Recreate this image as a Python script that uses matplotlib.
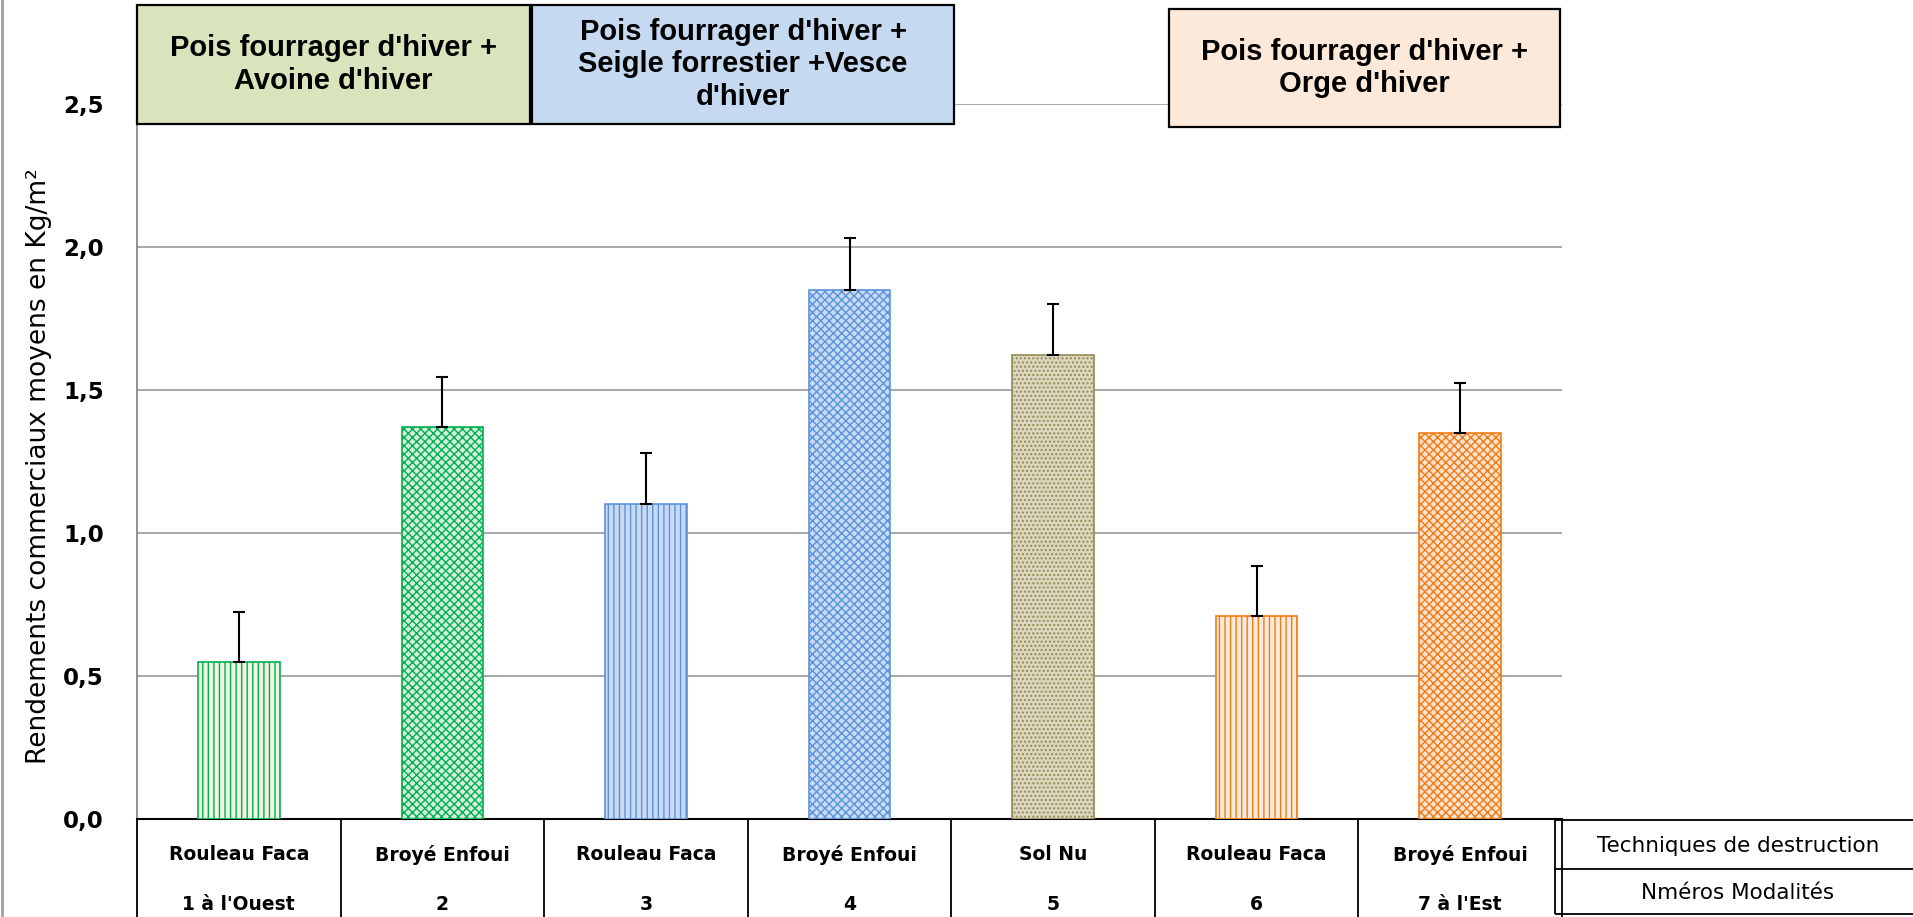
import matplotlib
matplotlib.use('Agg')
import matplotlib.pyplot as plt
import matplotlib.transforms as mtransforms
from matplotlib.patches import Rectangle
from matplotlib.lines import Line2D
import numpy as np

# Data
techniques = ['Rouleau Faca', 'Broyé Enfoui', 'Rouleau Faca', 'Broyé Enfoui',
              'Sol Nu', 'Rouleau Faca', 'Broyé Enfoui']
modalites = ["1 à l'Ouest", '2', '3', '4', '5', '6', "7 à l'Est"]
rendements = [0.55, 1.37, 1.10, 1.85, 1.62, 0.71, 1.35]
erreurs = [0.175, 0.175, 0.18, 0.18, 0.18, 0.175, 0.175]
yticks = [0.0, 0.5, 1.0, 1.5, 2.0, 2.5]
ytick_labels = ['0,0', '0,5', '1,0', '1,5', '2,0', '2,5']
groupes = ["Pois fourrager d'hiver +\nAvoine d'hiver",
           "Pois fourrager d'hiver +\nSeigle forrestier +Vesce\nd'hiver",
           "Pois fourrager d'hiver +\nOrge d'hiver"]

# Styles
faces = ['#EEF3E2', '#D5EEDC', '#C9DBF2', '#C9DBF2', '#DCD8C0', '#FDEBDD', '#FDE3CF']
edges = ['#00B050', '#00B050', '#5B93DB', '#5B93DB', '#948A54', '#F07A14', '#F07A14']
hatches = ['|||', 'xxxx', '|||', 'xxxx', '....', '|||', 'xxxx']
group_colors = ['#D8E4BC', '#C5D9F1', '#FDE9D9']

W, H = 1913, 917
plt.rcParams['hatch.linewidth'] = 1.0
box_font = ['Liberation Sans Narrow', 'Liberation Sans', 'DejaVu Sans']

fig = plt.figure(figsize=(W / 100, H / 100), dpi=100)
ax = fig.add_axes([137 / W, 1 - 819 / H, (1562 - 137) / W, (819 - 103.5) / H])

x = np.arange(len(rendements))
bars = ax.bar(x, rendements, width=0.4, color=faces, edgecolor=edges,
              linewidth=1.2, zorder=3)
for b, h in zip(bars, hatches):
    b.set_hatch(h)
ax.errorbar(x, rendements, yerr=[np.zeros(len(erreurs)), erreurs], fmt='none',
            ecolor='black', elinewidth=1.5, capsize=4, capthick=1.5, zorder=4)

ax.set_xlim(-0.5, len(rendements) - 0.5)
ax.set_ylim(0, 2.5)
ax.set_xticks([])
ax.set_yticks(yticks)
ax.set_yticklabels(ytick_labels, fontsize=16.5, fontweight='bold', family='DejaVu Sans')
ax.tick_params(axis='y', length=0, pad=24)
ax.set_axisbelow(True)
ax.yaxis.grid(True, color='#A0A0A0', lw=1.3)
ax.spines['top'].set_visible(False)
ax.spines['right'].set_visible(False)
ax.spines['left'].set_color('#808080')
ax.spines['left'].set_linewidth(1.2)
ax.spines['bottom'].set_linewidth(1.5)

fig.text(39 / W, 1 - 466 / H, 'Rendements commerciaux moyens en Kg/m²',
         rotation=90, ha='center', va='center', fontsize=19, family='DejaVu Sans')

# Table under the chart
trans = mtransforms.blended_transform_factory(ax.transData, fig.transFigure)
for i in range(len(rendements) + 1):
    ax.add_line(Line2D([i - 0.5, i - 0.5], [1 - 819 / H, 0], transform=trans,
                       color='black', lw=1.3, clip_on=False))
for i, (t, m) in enumerate(zip(techniques, modalites)):
    ax.text(i, 1 - 855 / H, t, transform=trans, ha='center', va='center',
            fontsize=13.5, fontweight='bold')
    ax.text(i, 1 - 905 / H, m, transform=trans, ha='center', va='center',
            fontsize=13.5, fontweight='bold')

# Right legend table
fig.patches.append(Rectangle((1555 / W, 1 - 914 / H), 400 / W, 94 / H,
                             transform=fig.transFigure, fill=False, ec='black', lw=1.3))
fig.lines.append(Line2D([1555 / W, 1], [1 - 869 / H, 1 - 869 / H],
                        transform=fig.transFigure, color='black', lw=1.3))
fig.text(1738 / W, 1 - 846 / H, 'Techniques de destruction', ha='center', va='center',
         fontsize=15.5)
fig.text(1738 / W, 1 - 893 / H, 'Nméros Modalités', ha='center', va='center',
         fontsize=15.5)

# Group boxes on top
boxes = [(137, 530, 5, 124), (532, 954, 5, 124), (1169, 1560, 9, 127)]
for (x0, x1, y0, y1), label, c in zip(boxes, groupes, group_colors):
    fig.patches.append(Rectangle((x0 / W, 1 - y1 / H), (x1 - x0) / W, (y1 - y0) / H,
                                 transform=fig.transFigure, fc=c, ec='black', lw=1.6,
                                 zorder=5))
    fig.text((x0 + x1) / 2 / W, 1 - (y0 + y1) / 2 / H, label, ha='center', va='center',
             fontsize=21, fontweight='bold', family=box_font, linespacing=1.2,
             zorder=6)

# Left border line
fig.lines.append(Line2D([2 / W, 2 / W], [0, 1], transform=fig.transFigure,
                        color='#A0A0A0', lw=2))

plt.savefig('out.png', dpi=100)
